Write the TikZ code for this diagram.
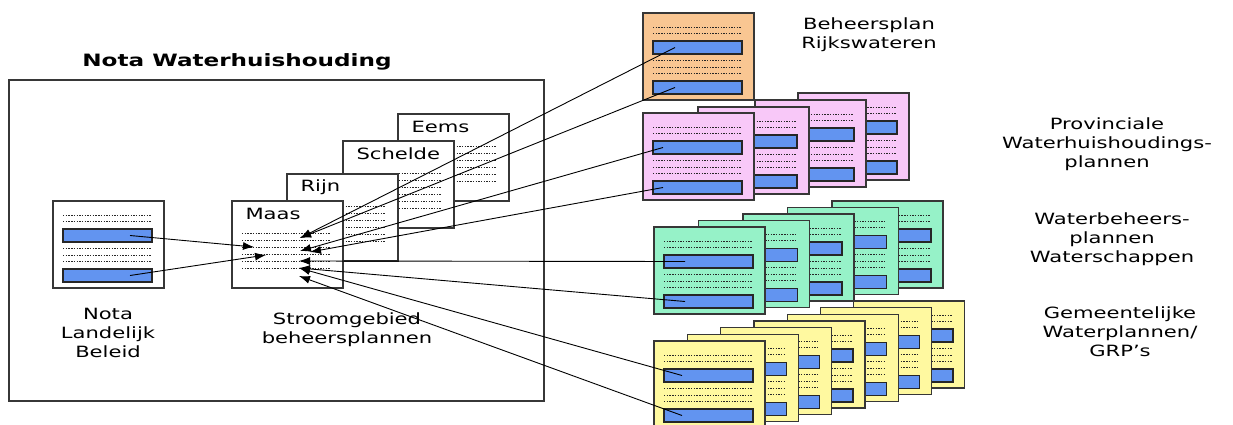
\documentclass[tikz,border=0pt]{standalone}
\usepackage{fontspec}
\setmainfont{DejaVu Sans}[FakeStretch=1.36]
\usetikzlibrary{arrows.meta}
\definecolor{peach}{RGB}{249,198,146}
\definecolor{lilac}{RGB}{248,200,248}
\definecolor{mint}{RGB}{150,242,200}
\definecolor{lemon}{RGB}{255,249,160}
\definecolor{barblue}{RGB}{98,148,240}
\definecolor{edge}{RGB}{55,55,55}
\begin{document}
\begin{tikzpicture}[x=1pt, y=-1pt,
  sheet/.style={draw=edge, line width=1.3pt, minimum width=111pt, minimum height=87pt, anchor=north west, inner sep=0pt, outer sep=0pt},
  bar/.style={draw=black!85, fill=barblue, line width=1.4pt, minimum width=89pt, minimum height=13pt, anchor=north west, inner sep=0pt, outer sep=0pt},
  dots/.style={draw=black!85, line width=0.8pt, dash pattern=on 1.4pt off 1.3pt},
  lbl/.style={align=center, font=\fontsize{15.5}{19}\selectfont},
  arr/.style={-{Latex[length=11pt,width=8pt]}, line width=0.9pt},
  pics/plan/.style={code={
    \node[sheet, fill=#1] (-box) at (0,0) {};
    \foreach \d in {14,20,47,54,60} \draw[dots] (10,\d) -- (99,\d);
    \node[bar] (-b1) at (10,28) {};
    \node[bar] (-b2) at (10,68) {};
  }},
  pics/river/.style={code={
    \node[sheet, fill=white] (-box) at (0,0) {};
    \node[lbl, anchor=west] (-name) at (10,13) {#1};
    \foreach \d in {32,39,...,67} \draw[dots] (10,\d) -- (98,\d);
  }}]
\useasboundingbox (0,0) rectangle (1233,425);
\clip (0,0) rectangle (1233,425);

% Nota Waterhuishouding
\node[font=\fontsize{17}{20}\selectfont\bfseries] (title) at (237,62) {Nota Waterhuishouding};
\node[draw=edge, line width=1.4pt, minimum width=535pt, minimum height=321pt, anchor=north west, outer sep=0pt] (frame) at (9,80) {};

\pic (eems) at (398,114) {river=Eems};
\pic (schelde) at (343,141) {river=Schelde};
\pic (rijn) at (287,174) {river=Rijn};
\pic (maas) at (232,201) {river=Maas};
\pic (nlb) at (53,201) {plan=white};
\node[lbl] (nlbl) at (108,333) {Nota\\Landelijk\\Beleid};
\node[lbl] (sgbl) at (347,330) {Stroomgebied\\beheersplannen};

% rijk, provincies, waterschappen, gemeenten
\pic (rws) at (643,13) {plan=peach};
\foreach \i/\x/\y in {3/798/93, 2/755/100, 1/698/107, 0/643/113}
  \pic (prov\i) at (\x,\y) {plan=lilac};
\foreach \i in {4,...,0}
  \pic (ws\i) at (654+44.5*\i, 227-6.5*\i) {plan=mint};
\foreach \i in {6,...,0}
  \pic (gem\i) at (654+33.3*\i, 341-6.67*\i) {plan=lemon};

\node[lbl] (rwsl) at (869,35) {Beheersplan\\Rijkswateren};
\node[lbl] (provl) at (1107,144) {Provinciale\\Waterhuishoudings-\\plannen};
\node[lbl] (wsl) at (1112,239) {Waterbeheers-\\plannen\\Waterschappen};
\node[lbl] (geml) at (1120,332) {Gemeentelijke\\Waterplannen/\\GRP’s};

% arrow tips in Maas
\coordinate (t1) at (254,247);
\coordinate (t2) at (266,255);
\coordinate (t3) at (300,238);
\coordinate (t4) at (300,251);
\coordinate (t5) at (310,252);
\coordinate (t6) at (299,261);
\coordinate (t7) at (299,268);
\coordinate (t8) at (299,276);

\draw[arr] ([xshift=67pt]nlb-b1.west) -- (t1);
\draw[arr] ([xshift=67pt]nlb-b2.west) -- (t2);
\draw[arr] ([xshift=22pt]rws-b1.west) -- (t3);
\draw[arr] ([xshift=22pt]rws-b2.west) -- (t3);
\draw[arr] ([xshift=10pt]prov0-b1.west) -- (t4);
\draw[arr] ([xshift=10pt]prov0-b2.west) -- (t5);
\draw[arr] ([xshift=21pt]ws0-b1.west) -- (t6);
\draw[arr] ([xshift=21pt]ws0-b2.west) -- (t7);
\draw[arr] ([xshift=18pt]gem0-b1.west) -- (t7);
\draw[arr] ([xshift=18pt]gem0-b2.west) -- (t8);
\end{tikzpicture}
\end{document}
